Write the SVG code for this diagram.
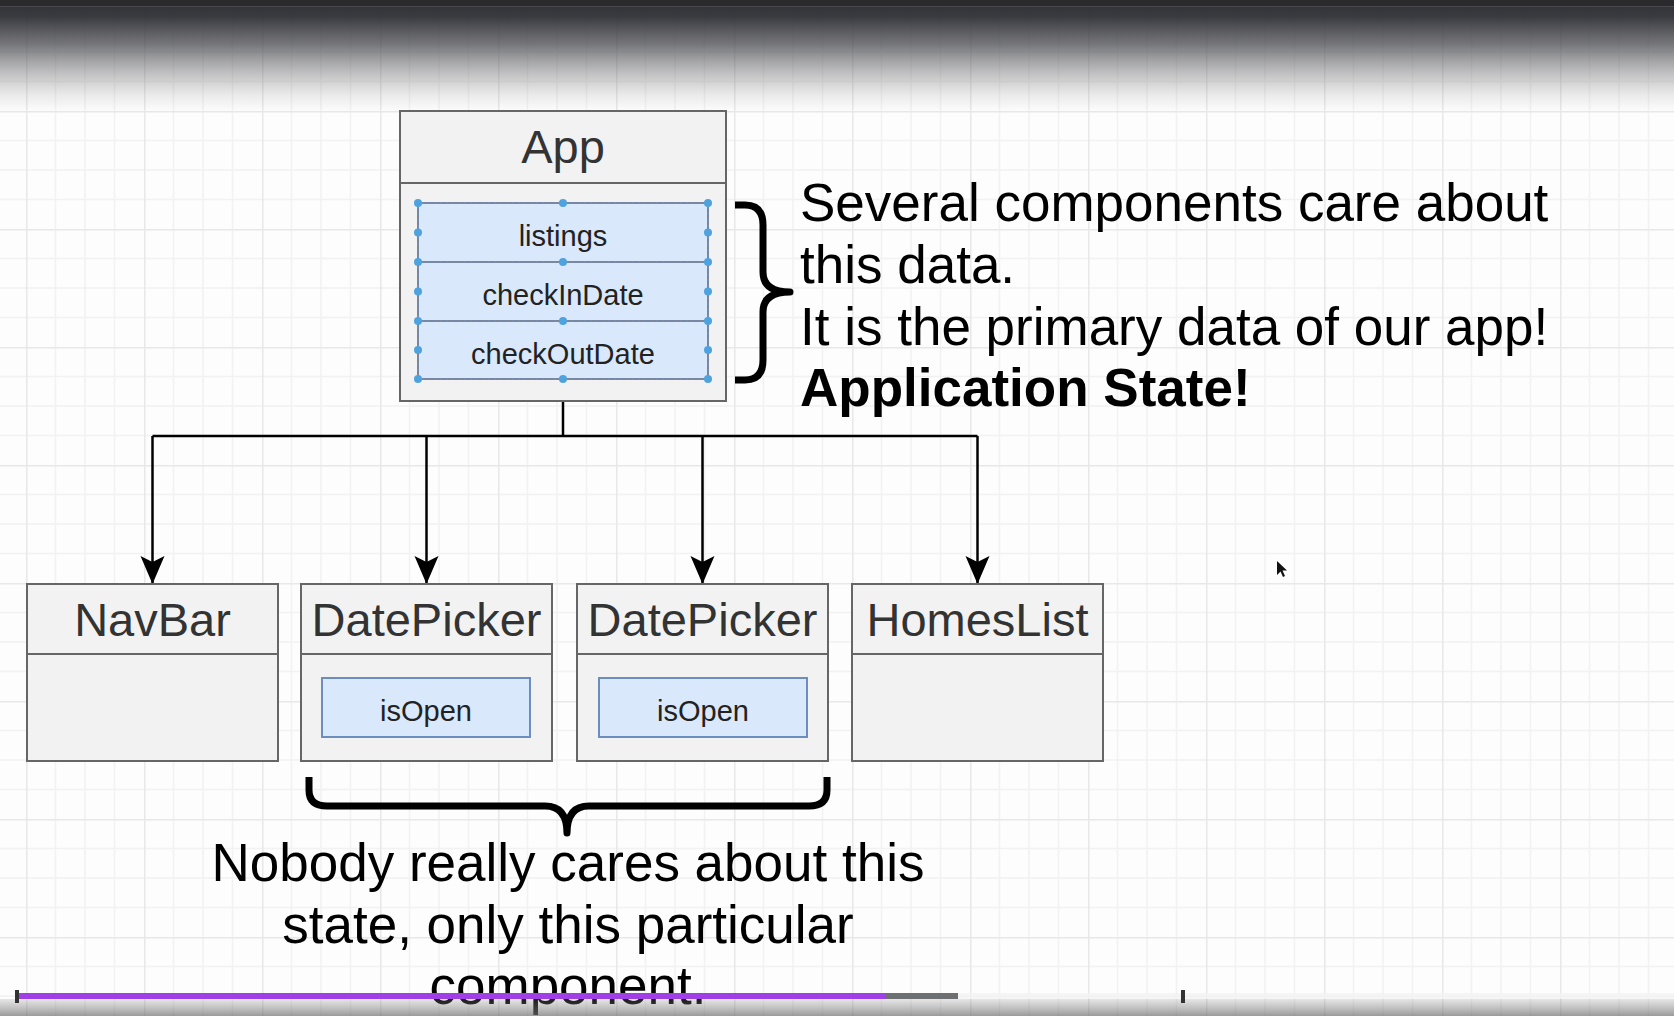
<svg xmlns="http://www.w3.org/2000/svg" width="1674" height="1016" viewBox="0 0 1674 1016">
  <defs>
    <style>
      .box { fill: #f2f2f2; stroke: #666666; stroke-width: 2; }
      .div { stroke: #666666; stroke-width: 2; fill: none; }
      .title { font-family: "Liberation Sans", Arial, sans-serif; font-size: 47px; fill: #333333; text-anchor: middle; }
      .field { fill: #dae8fc; stroke: #6c8ebf; stroke-width: 2; }
      .ftext { font-family: "Liberation Sans", Arial, sans-serif; font-size: 29px; fill: #222222; text-anchor: middle; }
      .sel { stroke: #7d8596; stroke-width: 2; stroke-dasharray: 4 2; fill: none; }
      .handle { fill: #4ea3de; }
      .note { font-family: "Liberation Sans", Arial, sans-serif; font-size: 53px; fill: #000000; }
      .brace { fill: none; stroke: #000000; stroke-width: 7; stroke-linejoin: round; }
      .conn { fill: none; stroke: #000000; stroke-width: 2.5; }
    </style>
    <pattern id="grid" x="26" y="111" width="118" height="118" patternUnits="userSpaceOnUse">
      <rect width="118" height="118" fill="#fdfdfd"/>
      <path d="M29.5,0 V118 M59,0 V118 M88.5,0 V118 M0,29.5 H118 M0,59 H118 M0,88.5 H118" stroke="#f2f2f2" stroke-width="1.5" fill="none"/>
      <path d="M0.75,0 V118 M0,0.75 H118" stroke="#e8e8e8" stroke-width="1.5" fill="none"/>
    </pattern>
    <linearGradient id="topShade" x1="0" y1="0" x2="0" y2="1">
      <stop offset="0" stop-color="#2f3035" stop-opacity="1"/>
      <stop offset="0.15" stop-color="#34353a" stop-opacity="0.97"/>
      <stop offset="0.4" stop-color="#4a4b50" stop-opacity="0.75"/>
      <stop offset="0.65" stop-color="#6a6a6e" stop-opacity="0.42"/>
      <stop offset="0.85" stop-color="#808080" stop-opacity="0.15"/>
      <stop offset="1" stop-color="#888888" stop-opacity="0"/>
    </linearGradient>
    <linearGradient id="botShade" x1="0" y1="0" x2="0" y2="1">
      <stop offset="0" stop-color="#888888" stop-opacity="0.2"/>
      <stop offset="1" stop-color="#707070" stop-opacity="0.7"/>
    </linearGradient>
    <marker id="arrow" viewBox="-1 -13 30 26" markerWidth="30" markerHeight="26" refX="28" refY="0" orient="auto" markerUnits="userSpaceOnUse">
      <path d="M0,-12 L28,0 L0,12 L6,0 Z" fill="#000000"/>
    </marker>
  </defs>

  <rect x="0" y="0" width="1674" height="1016" fill="url(#grid)"/>

  <g id="connectors">
    <path class="conn" d="M563,401 V436 M152.5,436 H977.5"/>
    <path class="conn" d="M152.5,436 V584" marker-end="url(#arrow)"/>
    <path class="conn" d="M426.5,436 V584" marker-end="url(#arrow)"/>
    <path class="conn" d="M702.5,436 V584" marker-end="url(#arrow)"/>
    <path class="conn" d="M977.5,436 V584" marker-end="url(#arrow)"/>
  </g>

  <g id="app">
    <rect class="box" x="400" y="111" width="326" height="290"/>
    <line class="div" x1="400" y1="183" x2="726" y2="183"/>
    <text class="title" x="563" y="163">App</text>
    <rect class="field" x="418" y="203" width="290" height="59"/>
    <rect class="field" x="418" y="262" width="290" height="59"/>
    <rect class="field" x="418" y="321" width="290" height="58"/>
    <path class="sel" d="M418,203 H708 M418,262 H708 M418,321 H708 M418,379 H708 M418,203 V379 M708,203 V379"/>
    <text class="ftext" x="563" y="246">listings</text>
    <text class="ftext" x="563" y="305">checkInDate</text>
    <text class="ftext" x="563" y="364">checkOutDate</text>
    <g class="handle">
      <circle cx="418" cy="203" r="4"/><circle cx="563" cy="203" r="4"/><circle cx="708" cy="203" r="4"/>
      <circle cx="418" cy="232.5" r="4"/><circle cx="708" cy="232.5" r="4"/>
      <circle cx="418" cy="262" r="4"/><circle cx="563" cy="262" r="4"/><circle cx="708" cy="262" r="4"/>
      <circle cx="418" cy="291.5" r="4"/><circle cx="708" cy="291.5" r="4"/>
      <circle cx="418" cy="321" r="4"/><circle cx="563" cy="321" r="4"/><circle cx="708" cy="321" r="4"/>
      <circle cx="418" cy="350" r="4"/><circle cx="708" cy="350" r="4"/>
      <circle cx="418" cy="379" r="4"/><circle cx="563" cy="379" r="4"/><circle cx="708" cy="379" r="4"/>
    </g>
  </g>

  <g id="navbar">
    <rect class="box" x="27" y="584" width="251" height="177"/>
    <line class="div" x1="27" y1="654" x2="278" y2="654"/>
    <text class="title" x="152.5" y="636">NavBar</text>
  </g>

  <g id="datepicker1">
    <rect class="box" x="301" y="584" width="251" height="177"/>
    <line class="div" x1="301" y1="654" x2="552" y2="654"/>
    <text class="title" x="426.5" y="636">DatePicker</text>
    <rect class="field" x="322" y="678" width="208" height="59"/>
    <text class="ftext" x="426" y="721">isOpen</text>
  </g>

  <g id="datepicker2">
    <rect class="box" x="577" y="584" width="251" height="177"/>
    <line class="div" x1="577" y1="654" x2="828" y2="654"/>
    <text class="title" x="702.5" y="636">DatePicker</text>
    <rect class="field" x="599" y="678" width="208" height="59"/>
    <text class="ftext" x="703" y="721">isOpen</text>
  </g>

  <g id="homeslist">
    <rect class="box" x="852" y="584" width="251" height="177"/>
    <line class="div" x1="852" y1="654" x2="1103" y2="654"/>
    <text class="title" x="977.5" y="636">HomesList</text>
  </g>

  <g id="app-state-note">
    <path class="brace" d="M735,205 L745,205 Q763,205 763,225 L763,272 Q763,292 790,292 Q763,292 763,312 L763,360 Q763,380 745,380 L735,380"/>
    <text class="note" x="800" y="221">Several components care about</text>
    <text class="note" x="800" y="283">this data.</text>
    <text class="note" x="800" y="345">It is the primary data of our app!</text>
    <text class="note" x="800" y="406" font-weight="bold">Application State!</text>
  </g>

  <g id="component-state-note">
    <path class="brace" d="M309,777 L309,790 Q309,806 327,806 L545,806 Q567,806 567,833 Q567,806 589,806 L809,806 Q827,806 827,790 L827,777"/>
    <text class="note" x="568" y="881" text-anchor="middle">Nobody really cares about this</text>
    <text class="note" x="568" y="943" text-anchor="middle">state, only this particular</text>
    <text class="note" x="568" y="1004" text-anchor="middle">component.</text>
  </g>

  <path d="M1277,561 L1277,575 L1280.5,571.5 L1283,577 L1285,576 L1282.5,570.5 L1287,570.5 Z" fill="#111111"/>

  <rect x="0" y="0" width="1674" height="112" fill="url(#topShade)"/>
  <rect x="0" y="0" width="1674" height="6" fill="#2a2a2c"/>
  <rect x="0" y="6" width="1674" height="1" fill="#4a4a4e"/>

  <rect x="0" y="999" width="1674" height="17" fill="url(#botShade)"/>
  <rect x="958" y="993" width="716" height="6" fill="#f2f2f2" opacity="0.8"/>
  <rect x="16" y="993" width="870" height="6" fill="#a03fe6"/>
  <rect x="886" y="993" width="72" height="6" fill="#6e6f70"/>
  <rect x="15" y="990" width="4" height="13" fill="#333333"/>
  <rect x="1181" y="990" width="4" height="13" fill="#333333"/>
</svg>
